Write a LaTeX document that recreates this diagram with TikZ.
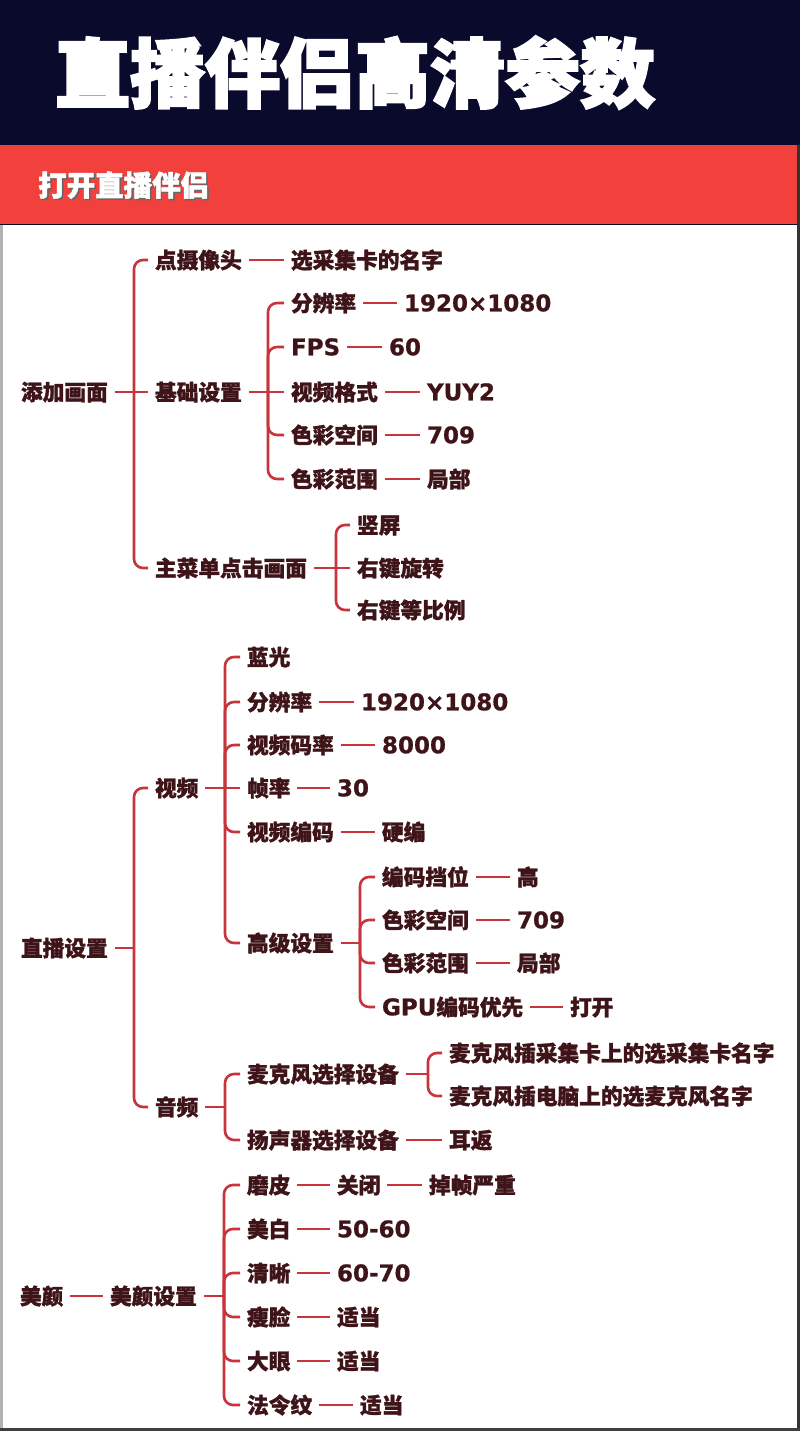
\documentclass[tikz,border=0pt]{standalone}
\usepackage{fontspec}
\newfontfamily\cjk{Noto Sans CJK SC}[FakeBold=1.3]
\newfontfamily\subfont{Noto Sans CJK SC}[FakeBold=1.8]
\newfontfamily\ttlfont{Noto Sans CJK SC}[FakeBold=3]
\newfontfamily\latf{DejaVu Sans}[FakeBold=0.8]
\newcommand\LT[1]{{\latf\bfseries\fontsize{23}{26}\selectfont #1}}
\definecolor{navy}{HTML}{0A0A2C}
\definecolor{bandred}{HTML}{F2413D}
\definecolor{txc}{HTML}{3E1418}
\definecolor{lnc}{HTML}{C8343C}
\tikzset{
  tx/.style={font=\cjk\bfseries\fontsize{21.7}{24}\selectfont, text=txc, inner sep=0pt,
    outer xsep=7pt, outer ysep=0pt, anchor=west, xshift=-7pt, text height=19.6pt, text depth=3pt},
  ln/.style={draw=lnc, line width=2.6pt},
  br/.style={ln, rounded corners=9pt},
}
\begin{document}
\begin{tikzpicture}[x=1pt,y=-1pt]
\useasboundingbox (0,0) rectangle (800,1431);
% background
\fill[white] (0,0) rectangle (800,1431);
\fill[navy] (0,0) rectangle (800,145);
\fill[bandred] (0,145) rectangle (797,225);
\draw[navy!70!black, line width=1pt] (0,225) -- (797,225);
\fill[black!80] (797,145) rectangle (800,1431);
\fill[black!75] (0,1428) rectangle (800,1431);
\fill[black!30] (0,225) rectangle (2.5,1428);
% titles
\node[font=\ttlfont\bfseries\fontsize{75}{80}\selectfont, text=white, inner sep=0pt, anchor=base west] (title) at (55,101.5) {直播伴侣高清参数};
\node[font=\subfont\bfseries\fontsize{28.5}{30}\selectfont, text=black!60, inner sep=0pt, anchor=base west] (subsh) at (39.5,197.5) {打开直播伴侣};
\node[font=\subfont\bfseries\fontsize{28.5}{30}\selectfont, text=white, inner sep=0pt, anchor=base west] (sub) at (38,196) {打开直播伴侣};

% ===== Section 1: 添加画面 =====
\node[tx] (a0) at (21,392) {添加画面};
\node[tx] (a1) at (155,260) {点摄像头};
\node[tx] (a1v) at (291,260) {选采集卡的名字};
\node[tx] (a2) at (155,392) {基础设置};
\node[tx] (a21) at (291,303) {分辨率};
\node[tx] (a21v) at (404,303) {\LT{1920×1080}};
\node[tx] (a22) at (291,347) {\LT{FPS}};
\node[tx] (a22v) at (389,347) {\LT{60}};
\node[tx] (a23) at (291,392) {视频格式};
\node[tx] (a23v) at (427,392) {\LT{YUY2}};
\node[tx] (a24) at (291,435) {色彩空间};
\node[tx] (a24v) at (427,435) {\LT{709}};
\node[tx] (a25) at (291,479) {色彩范围};
\node[tx] (a25v) at (427,479) {局部};
\node[tx] (a3) at (155,568) {主菜单点击画面};
\node[tx] (a31) at (357,525) {竖屏};
\node[tx] (a32) at (357,568) {右键旋转};
\node[tx] (a33) at (357,610) {右键等比例};

\coordinate (jA) at (134,392);
\coordinate (jA2) at (268,392);
\coordinate (jA3) at (336,568);

\draw[ln] (a0.east) -- (jA) -- (a2.west);
\draw[br] (jA) |- (a1.west);
\draw[br] (jA) |- (a3.west);
\draw[ln] (a1.east) -- (a1v.west);
\draw[ln] (a2.east) -- (jA2) -- (a23.west);
\draw[br] (jA2) |- (a21.west);
\draw[br] (jA2) |- (a22.west);
\draw[br] (jA2) |- (a24.west);
\draw[br] (jA2) |- (a25.west);
\draw[ln] (a21.east) -- (a21v.west);
\draw[ln] (a22.east) -- (a22v.west);
\draw[ln] (a23.east) -- (a23v.west);
\draw[ln] (a24.east) -- (a24v.west);
\draw[ln] (a25.east) -- (a25v.west);
\draw[ln] (a3.east) -- (jA3) -- (a32.west);
\draw[br] (jA3) |- (a31.west);
\draw[br] (jA3) |- (a33.west);

% ===== Section 2: 直播设置 =====
\node[tx] (b0) at (21,948) {直播设置};
\node[tx] (b1) at (155,788) {视频};
\node[tx] (b11) at (247,657) {蓝光};
\node[tx] (b12) at (247,702) {分辨率};
\node[tx] (b12v) at (361,702) {\LT{1920×1080}};
\node[tx] (b13) at (247,745) {视频码率};
\node[tx] (b13v) at (382,745) {\LT{8000}};
\node[tx] (b14) at (247,788) {帧率};
\node[tx] (b14v) at (337,788) {\LT{30}};
\node[tx] (b15) at (247,832) {视频编码};
\node[tx] (b15v) at (382,832) {硬编};
\node[tx] (b16) at (247,943) {高级设置};
\node[tx] (b161) at (382,877) {编码挡位};
\node[tx] (b161v) at (517,877) {高};
\node[tx] (b162) at (382,920) {色彩空间};
\node[tx] (b162v) at (517,920) {\LT{709}};
\node[tx] (b163) at (382,963) {色彩范围};
\node[tx] (b163v) at (517,963) {局部};
\node[tx] (b164) at (382,1007) {\LT{GPU}编码优先};
\node[tx] (b164v) at (570,1007) {打开};
\node[tx] (b2) at (155,1107) {音频};
\node[tx] (b21) at (247,1074) {麦克风选择设备};
\node[tx] (b211) at (449,1053) {麦克风插采集卡上的选采集卡名字};
\node[tx] (b212) at (449,1096) {麦克风插电脑上的选麦克风名字};
\node[tx] (b22) at (247,1140) {扬声器选择设备};
\node[tx] (b22v) at (449,1140) {耳返};

\coordinate (jB) at (134,948);
\coordinate (jB1) at (225,788);
\coordinate (jB16) at (360,943);
\coordinate (jB2) at (225,1107);
\coordinate (jB21) at (428,1074);

\draw[ln] (b0.east) -- (jB);
\draw[br] (jB) |- (b1.west);
\draw[br] (jB) |- (b2.west);
\draw[ln] (b1.east) -- (jB1) -- (b14.west);
\draw[br] (jB1) |- (b11.west);
\draw[br] (jB1) |- (b12.west);
\draw[br] (jB1) |- (b13.west);
\draw[br] (jB1) |- (b15.west);
\draw[br] (jB1) |- (b16.west);
\draw[ln] (b12.east) -- (b12v.west);
\draw[ln] (b13.east) -- (b13v.west);
\draw[ln] (b14.east) -- (b14v.west);
\draw[ln] (b15.east) -- (b15v.west);
\draw[ln] (b16.east) -- (jB16);
\draw[br] (jB16) |- (b161.west);
\draw[br] (jB16) |- (b162.west);
\draw[br] (jB16) |- (b163.west);
\draw[br] (jB16) |- (b164.west);
\draw[ln] (b161.east) -- (b161v.west);
\draw[ln] (b162.east) -- (b162v.west);
\draw[ln] (b163.east) -- (b163v.west);
\draw[ln] (b164.east) -- (b164v.west);
\draw[ln] (b2.east) -- (jB2);
\draw[br] (jB2) |- (b21.west);
\draw[br] (jB2) |- (b22.west);
\draw[ln] (b21.east) -- (jB21);
\draw[br] (jB21) |- (b211.west);
\draw[br] (jB21) |- (b212.west);
\draw[ln] (b22.east) -- (b22v.west);

% ===== Section 3: 美颜 =====
\node[tx] (c0) at (20,1296) {美颜};
\node[tx] (c1) at (110,1296) {美颜设置};
\node[tx] (c11) at (247,1185) {磨皮};
\node[tx] (c11v) at (337,1185) {关闭};
\node[tx] (c11w) at (429,1185) {掉帧严重};
\node[tx] (c12) at (247,1229) {美白};
\node[tx] (c12v) at (337,1229) {\LT{50-60}};
\node[tx] (c13) at (247,1273) {清晰};
\node[tx] (c13v) at (337,1273) {\LT{60-70}};
\node[tx] (c14) at (247,1317) {瘦脸};
\node[tx] (c14v) at (337,1317) {适当};
\node[tx] (c15) at (247,1361) {大眼};
\node[tx] (c15v) at (337,1361) {适当};
\node[tx] (c16) at (247,1405) {法令纹};
\node[tx] (c16v) at (360,1405) {适当};

\coordinate (jC) at (224,1296);
\draw[ln] (c0.east) -- (c1.west);
\draw[ln] (c1.east) -- (jC);
\draw[br] (jC) |- (c11.west);
\draw[br] (jC) |- (c12.west);
\draw[br] (jC) |- (c13.west);
\draw[br] (jC) |- (c14.west);
\draw[br] (jC) |- (c15.west);
\draw[br] (jC) |- (c16.west);
\draw[ln] (c11.east) -- (c11v.west);
\draw[ln] (c11v.east) -- (c11w.west);
\draw[ln] (c12.east) -- (c12v.west);
\draw[ln] (c13.east) -- (c13v.west);
\draw[ln] (c14.east) -- (c14v.west);
\draw[ln] (c15.east) -- (c15v.west);
\draw[ln] (c16.east) -- (c16v.west);
\end{tikzpicture}
\end{document}
